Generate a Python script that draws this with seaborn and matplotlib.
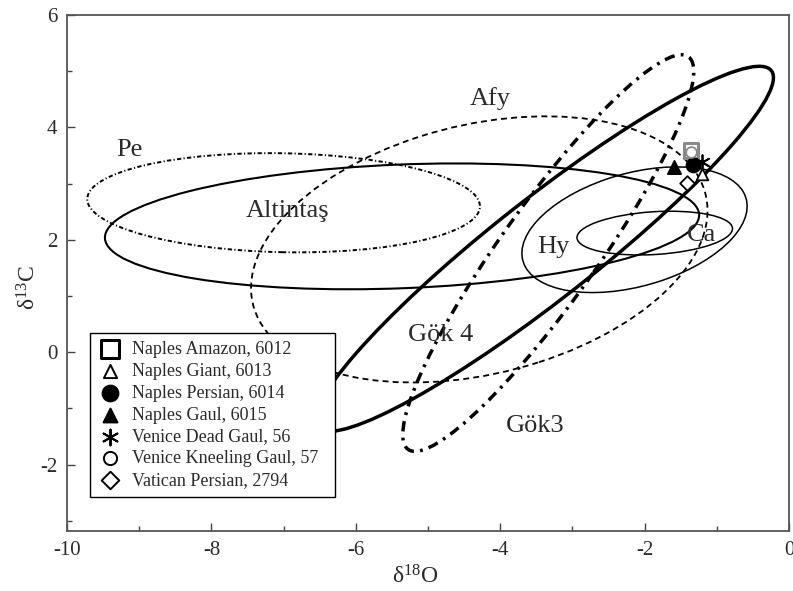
import matplotlib
matplotlib.use("Agg")
import matplotlib.pyplot as plt
from matplotlib.patches import Ellipse
from matplotlib.ticker import MultipleLocator
import seaborn as sns
import pandas as pd

# ellipse fields: centre, semi-axes and tilt (data units / degrees)
field_names = ["Pe", "Altintaş", "Afy", "Gök 4", "Gök3", "Hy", "Ca"]
field_cx = [-7.0, -5.36, -4.29, -3.39, -3.335, -2.14, -1.86]
field_cy = [2.66, 2.24, 1.83, 1.84, 1.765, 2.18, 2.12]
field_a = [2.72, 4.12, 3.30, 4.47, 4.0, 1.65, 1.08]
field_b = [0.88, 1.10, 2.17, 0.80, 0.715, 0.98, 0.38]
field_angle = [-1.5, 3.0, 22.4, 45.7, 61.4, 23.9, 4.8]

# label positions for the fields
label_x = [-9.13, -6.95, -4.14, -4.83, -3.52, -3.27, -1.21]
label_y = [3.60, 2.52, 4.52, 0.31, -1.32, 1.88, 2.09]

# sample points
sample_names = [
    "Naples Amazon, 6012", "Naples Giant, 6013", "Naples Persian, 6014",
    "Naples Gaul, 6015", "Venice Dead Gaul, 56", "Venice Kneeling Gaul, 57",
    "Vatican Persian, 2794",
]
sample_o = [-1.36, -1.21, -1.33, -1.60, -1.21, -1.36, -1.42]
sample_c = [3.59, 3.17, 3.33, 3.30, 3.39, 3.57, 3.02]

sns.set_theme(style="white")
plt.rcParams["font.family"] = ["Liberation Serif", "DejaVu Serif"]
plt.rcParams["mathtext.fontset"] = "custom"
plt.rcParams["mathtext.rm"] = "Liberation Serif"
plt.rcParams["mathtext.default"] = "regular"
plt.rcParams["axes.unicode_minus"] = False

fig, ax = plt.subplots(figsize=(7.93, 5.91), dpi=100)
fig.subplots_adjust(left=0.0845, right=0.995, bottom=0.1015, top=0.9746)

styles = [
    dict(lw=1.4, ls=(0, (2.2, 1.2, 0.6, 1.2))),
    dict(lw=1.5, ls="-"),
    dict(lw=1.3, ls=(0, (3.3, 2.3))),
    dict(lw=2.5, ls="-"),
    dict(lw=2.5, ls=(0, (3.0, 1.8, 0.8, 1.8))),
    dict(lw=1.1, ls="-"),
    dict(lw=1.1, ls="-"),
]
for i, name in enumerate(field_names):
    e = Ellipse((field_cx[i], field_cy[i]), 2 * field_a[i], 2 * field_b[i],
                angle=field_angle[i], fill=False, edgecolor="black",
                linewidth=styles[i]["lw"], linestyle=styles[i]["ls"], zorder=2)
    ax.add_patch(e)
    ax.text(label_x[i], label_y[i], name, fontsize=19, ha="center",
            va="center", color="#2a2a2a", zorder=3)

pts = pd.DataFrame({"name": sample_names, "d18O": sample_o, "d13C": sample_c})
markers = ["s", "^", "o", "^", (6, 2, 0), "o", "D"]
faces = ["none", "white", "black", "black", "black", "white", "white"]
sizes = [110, 70, 100, 90, 110, 60, 55]
for i, row in pts.iterrows():
    edge = "#8a8a8a" if i in (0, 5) else "black"
    sns.scatterplot(x=[row["d18O"]], y=[row["d13C"]], ax=ax, marker=markers[i],
                    s=sizes[i], facecolor=faces[i], edgecolor=edge,
                    linewidth=2.2 if i == 0 else 1.3, zorder=4 + (i == 5))

# legend handles with black edges
leg_sizes = [150, 90, 130, 100, 130, 90, 80]
handles = []
for i, name in enumerate(sample_names):
    h = ax.scatter([], [], marker=markers[i], s=leg_sizes[i],
                   facecolor=faces[i] if faces[i] != "none" else "white",
                   edgecolor="black", linewidth=2.2 if i == 0 else 1.4,
                   label=name)
    handles.append(h)
leg = ax.legend(handles=handles, loc="upper left",
                bbox_to_anchor=(0.0319, 0.0, 0.3393, 0.3837), mode="expand",
                borderaxespad=0, fontsize=13, frameon=True, fancybox=False,
                edgecolor="black", framealpha=1, labelspacing=0.265,
                handletextpad=0.6, borderpad=0.45, handlelength=1.3)
leg.get_frame().set_linewidth(1.0)
leg.set_zorder(10)
for t in leg.get_texts():
    t.set_color("#2a2a2a")

ax.set_xlim(-10, 0)
ax.set_ylim(-3.18, 6)
ax.xaxis.set_major_locator(MultipleLocator(2))
ax.xaxis.set_minor_locator(MultipleLocator(1))
ax.yaxis.set_major_locator(MultipleLocator(2))
ax.yaxis.set_minor_locator(MultipleLocator(1))
ax.tick_params(which="both", direction="in", left=True, bottom=True,
               top=False, right=False, labelsize=15, colors="#444444",
               labelcolor="#2a2a2a", pad=7)
ax.tick_params(which="major", length=6, width=1)
ax.tick_params(which="minor", length=3.5, width=1)
for sp in ax.spines.values():
    sp.set_color("#555555")
    sp.set_linewidth(1.3)

ax.set_xlabel("δ$^{18}$O", fontsize=17, color="#2a2a2a")
ax.set_ylabel("δ$^{13}$C", fontsize=17, color="#2a2a2a")
ax.xaxis.set_label_coords(0.482, -0.066)
ax.yaxis.set_label_coords(-0.037, 0.471)

fig.savefig("out.png", dpi=100)
